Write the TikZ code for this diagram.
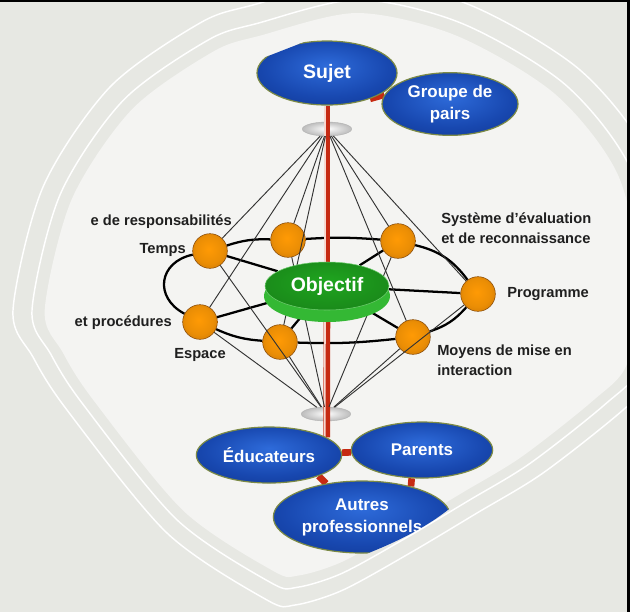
\documentclass[tikz,border=0pt]{standalone}
\usepackage{fontspec}
\setmainfont{Liberation Sans}
\usetikzlibrary{shapes.geometric}
\definecolor{fondgris}{HTML}{E7E8E3}
\definecolor{fondclair}{HTML}{F4F4F2}
\definecolor{bleuclair}{HTML}{2E6BDA}
\definecolor{bleumoyen}{HTML}{1848B0}
\definecolor{bleusombre}{HTML}{0A2778}
\definecolor{bordolive}{HTML}{7C8A45}
\definecolor{vertclair}{HTML}{1FA51F}
\definecolor{vertsombre}{HTML}{0B6E0E}
\definecolor{vertsocle}{HTML}{34B834}
\definecolor{orangeclair}{HTML}{FF9A05}
\definecolor{orangesombre}{HTML}{A65A08}
\definecolor{rougetube}{HTML}{C62A12}
\definecolor{rosetube}{HTML}{F6D8D0}
\pgfdeclareradialshading{lentille}{\pgfpoint{0bp}{6bp}}{color(0bp)=(bleuclair); color(22bp)=(bleumoyen); color(50bp)=(bleusombre)}
\pgfdeclareradialshading{orbe}{\pgfpoint{-2bp}{3bp}}{color(0bp)=(orangeclair); color(20bp)=(orangeclair!92!black); color(50bp)=(orangesombre)}
\pgfdeclareradialshading{vertobj}{\pgfpoint{0bp}{5bp}}{color(0bp)=(vertclair); color(25bp)=(vertclair!85!black); color(50bp)=(vertsombre)}
\pgfdeclareradialshading{gris}{\pgfpoint{0bp}{2bp}}{color(0bp)=(white); color(14bp)=(black!15); color(34bp)=(black!35); color(50bp)=(black!55)}
\pgfdeclarelayer{fond}
\pgfdeclarelayer{liens}
\pgfdeclarelayer{dessus}
\pgfsetlayers{fond,liens,main,dessus}
\tikzset{acteur/.style={ellipse, shade, shading=lentille, draw=bordolive, line width=0.9pt, text=white, font=\bfseries\fontsize{12.7}{16.5}\selectfont, align=center, inner sep=0pt}}
\tikzset{bille/.style={circle, shade, shading=orbe, draw=orangesombre!80!black, line width=0.4pt, minimum size=26pt, inner sep=0pt}}
\tikzset{disque/.style={ellipse, shade, shading=gris, draw=black!30, line width=0.3pt, minimum width=37pt, minimum height=10.5pt, inner sep=0pt}}
\tikzset{pastille/.style={ellipse, shade, shading=vertobj, draw=vertsocle!70!white, line width=0.4pt, minimum width=93pt, minimum height=36pt, text=white, font=\bfseries\fontsize{14.6}{17}\selectfont, inner sep=0pt}}
\tikzset{socle/.style={ellipse, fill=vertsocle, minimum width=94.5pt, minimum height=39pt, inner sep=0pt}}
\tikzset{etiquette/.style={font=\bfseries\fontsize{11}{15}\selectfont, text=black!88, align=left, inner sep=0pt}}
\tikzset{anneau/.style={draw=black, line width=1.7pt}}
\tikzset{fil/.style={draw=black!80, line width=0.7pt}}
\tikzset{tube/.style={draw=rougetube, line width=5pt}}
\tikzset{reflet/.style={draw=rosetube, line width=1.3pt, transform canvas={xshift=-1.5pt}}}
\def\pourtour{plot[smooth cycle] coordinates {(-317,0) (-287,-123) (-220,-223) (-130,-287) (-77,-305) (30,-330) (140,-305) (250,-240) (320,-150) (345,-30) (330,60) (293,100) (213,163) (147,203) (80,243) (13,280) (-35,295) (-63,290) (-163,223) (-263,100) (-297,47)}}

\begin{document}
\begin{tikzpicture}[x=0.75pt, y=-0.75pt]
\useasboundingbox (0,0) rectangle (630,612);
\begin{pgfonlayer}{fond}
\begin{scope}
\clip (0,0) rectangle (630,612);
\fill[fondgris] (0,0) rectangle (630,612);
\fill[fondclair, shift={(330,310)}, scale=0.9] \pourtour;
\draw[white, line width=1.1pt, shift={(330,310)}] \pourtour;
\draw[white, line width=1.1pt, shift={(330,310)}, scale=0.94] \pourtour;
\draw[black, line width=1.7pt] (0,1.1) -- (630,1.1);
\fill[black] (627,0) rectangle (630,612);
\end{scope}
\end{pgfonlayer}

\begin{pgfonlayer}{dessus}
\begin{scope}
\clip (240,67) -- (335,30) -- (420,30) -- (420,130) -- (240,130) -- cycle;
\node[acteur, font=\bfseries\fontsize{14.6}{17}\selectfont, minimum width=105pt, minimum height=48pt] (sujet) at (327,73) {Sujet};
\end{scope}
\node[acteur, minimum width=102pt, minimum height=47pt] (groupe) at (450,104) {Groupe de\\pairs};
\node[acteur, minimum width=109pt, minimum height=42pt] (educateurs) at (269,455) {Éducateurs};
\node[acteur, minimum width=106pt, minimum height=42pt] (parents) at (422,450) {Parents};
\begin{scope}
\clip (250,470) -- (470,470) -- (454,505) .. controls (430,525) and (400,542) .. (345,562) -- (250,562) -- cycle;
\node[acteur, minimum width=133pt, minimum height=54pt] (autres) at (362,517) {Autres\\professionnels};
\end{scope}
\node[socle] (objsocle) at (327,296) {};
\node[pastille] (objectif) at (327,286) {Objectif};
\end{pgfonlayer}

\node[disque] (hautdisc) at (327,129) {};
\node[disque] (basdisc) at (326,414) {};
\node[bille] (temps) at (210,251) {};
\node[bille] (partage) at (288,240) {};
\node[bille] (evaluation) at (398,241) {};
\node[bille] (programme) at (478,294) {};
\node[bille] (moyens) at (413,337) {};
\node[bille] (espace) at (280,342) {};
\node[bille] (procedures) at (200,322) {};

\node[etiquette, anchor=east] (lresp) at (232,222) {e de responsabilités};
\node[etiquette, anchor=east] (ltemps) at (186,250) {Temps};
\node[etiquette, anchor=east] (lproc) at (172,323) {et procédures};
\node[etiquette] (lespace) at (200,355) {Espace};
\node[etiquette, anchor=west] (leval) at (441,228.5) {Système d’évaluation\\et de reconnaissance};
\node[etiquette, anchor=west] (lprog) at (507,294) {Programme};
\node[etiquette, anchor=west] (lmoyens) at (437,360) {Moyens de mise en\\interaction};

\begin{pgfonlayer}{liens}
\draw[anneau] (temps) to[bend left=10] (partage);
\draw[anneau] (partage) to[bend left=4] (evaluation);
\draw[anneau] (evaluation) to[bend left=20] (programme);
\draw[anneau] (programme) to[bend left=15] (moyens);
\draw[anneau] (moyens) to[bend left=4] (espace);
\draw[anneau] (espace) to[bend left=10] (procedures);
\draw[anneau] (procedures) to[bend left=70, looseness=1.5] (temps);
\foreach \b in {temps,procedures,espace,evaluation,programme,moyens}
  \draw[anneau] (\b) -- (objectif);
\end{pgfonlayer}

\draw[tube] (sujet) -- (objectif);
\draw[reflet] (sujet) -- (objectif);
\draw[tube] (objectif) -- (educateurs.17);
\draw[reflet] (objectif) -- (educateurs.17);
\draw[tube] (sujet.-31) -- (groupe.172);
\draw[tube] (educateurs) -- (parents);
\draw[tube] (educateurs.-23) -- (autres.137);
\draw[tube] (parents.250) -- (autres.32);

\foreach \b in {temps,partage,evaluation,programme,moyens,espace,procedures} {
  \draw[fil] (hautdisc) -- (\b);
  \draw[fil] (basdisc) -- (\b);
}
\end{tikzpicture}
\end{document}
